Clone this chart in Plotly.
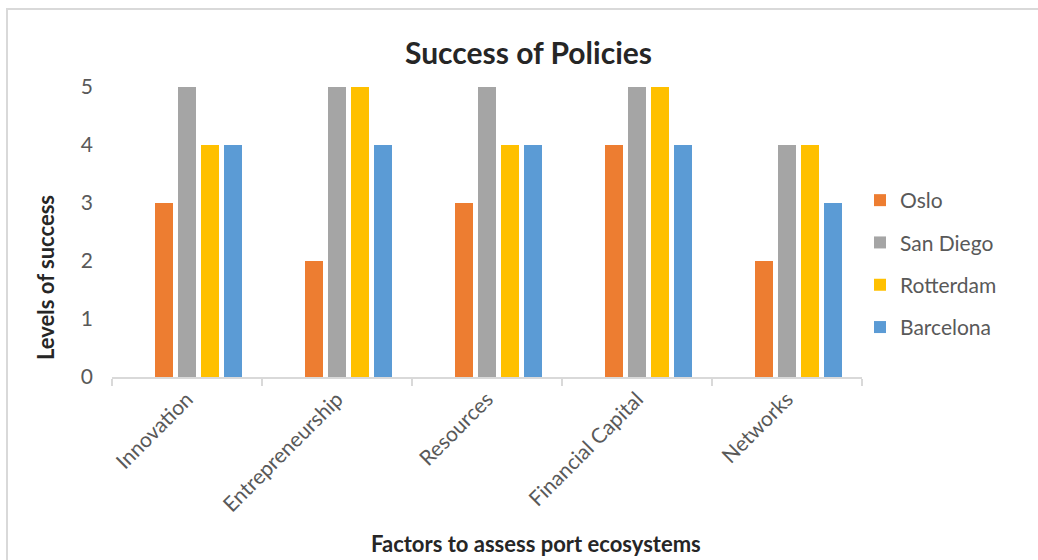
import plotly.graph_objects as go

categories = ["Innovation", "Entrepreneurship", "Resources", "Financial Capital", "Networks"]
oslo = [3, 2, 3, 4, 2]
san_diego = [5, 5, 5, 5, 4]
rotterdam = [4, 5, 4, 5, 4]
barcelona = [4, 4, 4, 4, 3]

series = [
    ("Oslo", oslo, "#ED7D31"),
    ("San Diego", san_diego, "#A5A5A5"),
    ("Rotterdam", rotterdam, "#FFC000"),
    ("Barcelona", barcelona, "#5B9BD5"),
]

FONT = "Lato, 'Open Sans', sans-serif"

# bar layout (in category units): width 18px of a 150px category, 23px step
BAR_W = 18 / 150
STEP = 23 / 150
FIRST_OFF = -32 / 150

fig = go.Figure()
for i, (name, vals, col) in enumerate(series):
    fig.add_trace(go.Bar(x=categories, y=vals, name=name, marker_color=col,
                         marker_line_width=0, legendgroup=f"g{i}",
                         width=BAR_W, offset=FIRST_OFF + i * STEP))

L, R, T, B = 112, 176, 87, 183
W, H = 1038, 560
pw, ph = W - L - R, H - T - B

def px(x):
    return (x - L) / pw

def py(y):
    return (H - B - y) / ph

fig.update_layout(
    width=W, height=H,
    margin=dict(l=L, r=R, t=T, b=B),
    paper_bgcolor="white", plot_bgcolor="white",
    barmode="overlay",
    font=dict(family=FONT, color="#595959"),
    showlegend=True,
    legend=dict(x=px(860), y=py(264), xanchor="left", yanchor="middle",
                font=dict(size=21, color="#595959"), tracegroupgap=12,
                itemwidth=30, bgcolor="rgba(0,0,0,0)"),
    xaxis=dict(showline=True, linecolor="#D9D9D9", linewidth=1.5,
               ticks="outside", tickson="boundaries", ticklen=7,
               tickcolor="#D9D9D9", tickwidth=1.5, tickangle=-45,
               tickfont=dict(size=21, color="#595959"), showgrid=False,
               automargin=False, range=[-0.5, 4.5]),
    yaxis=dict(range=[0, 5], dtick=1, showgrid=False, zeroline=False,
               showline=False, tickfont=dict(size=21, color="#595959"),
               ticklabelstandoff=18, automargin=False),
    shapes=[dict(type="rect", xref="paper", yref="paper",
                 x0=px(7), x1=px(1060), y0=py(600), y1=py(9),
                 line=dict(color="#D9D9D9", width=2), layer="below")],
    annotations=[
        dict(text="<b>Success of Policies</b>", xref="paper", yref="paper",
             x=px(528), y=py(52), xanchor="center", yanchor="middle",
             showarrow=False, font=dict(size=30, color="#262626", family=FONT)),
        dict(text="<b>Levels of success</b>", xref="paper", yref="paper",
             x=px(45), y=py(278), xanchor="center", yanchor="middle",
             textangle=-90, showarrow=False,
             font=dict(size=22, color="#262626", family=FONT)),
        dict(text="<b>Factors to assess port ecosystems</b>", xref="paper", yref="paper",
             x=px(536), y=py(543), xanchor="center", yanchor="middle",
             showarrow=False, font=dict(size=22, color="#262626", family=FONT)),
    ],
)

fig.write_html("out.html")
